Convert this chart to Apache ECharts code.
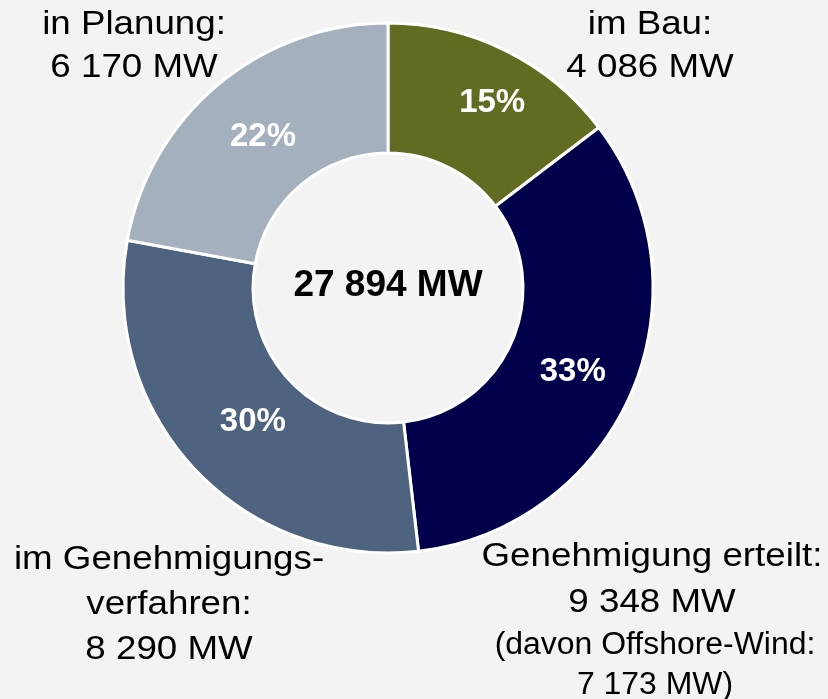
<!DOCTYPE html>
<html>
<head>
<meta charset="utf-8">
<title>Projektstatus</title>
<script src="https://cdn.jsdelivr.net/npm/echarts@6/dist/echarts.min.js"></script>
<style>
  html, body { margin: 0; padding: 0; background: #f3f3f3; }
  #chart { width: 828px; height: 699px; }
</style>
</head>
<body>
<div id="chart"></div>
<script>
// Werte in MW, im Uhrzeigersinn ab 12 Uhr
const categories = ['im Bau', 'Genehmigung erteilt', 'im Genehmigungsverfahren', 'in Planung'];
const values = [4086, 9348, 8290, 6170];
const colors = ['#636b23', '#01004b', '#4e6380', '#a5b0bf'];
const offshoreWind = 7173; // davon bei "Genehmigung erteilt"

// 27894 -> "27 894"
function fmt(v) {
  return String(v).replace(/\B(?=(\d{3})+(?!\d))/g, ' ');
}

const total = values.reduce((a, b) => a + b, 0);
const font = '"Liberation Sans", Arial, sans-serif';

function label(x, y, text, size, lh, sx) {
  return {
    type: 'text',
    x: x,
    y: y,
    scaleX: sx,
    silent: true,
    style: {
      text: text,
      x: 0,
      y: 0,
      align: 'center',
      verticalAlign: 'top',
      fontFamily: font,
      fontSize: size,
      lineHeight: lh,
      fill: '#000'
    }
  };
}

// kleine Verschiebungen der Prozentlabels wie im Original
const pctShift = [[14, -3], [-2, 4], [13, -5], [5, 5]];

const chart = echarts.init(document.getElementById('chart'));
chart.setOption({
  backgroundColor: '#f3f3f3',
  animation: false,
  graphic: [
    label(134, 3, categories[3] + ':\n' + fmt(values[3]) + ' MW', 34, 43, 1.08),
    label(650, 3, categories[0] + ':\n' + fmt(values[0]) + ' MW', 34, 43, 1.08),
    label(169, 537, 'im Genehmigungs-\nverfahren:\n' + fmt(values[2]) + ' MW', 34, 45, 1.08),
    label(652, 534, categories[1] + ':\n' + fmt(values[1]) + ' MW', 34, 46, 1.08),
    label(655, 625, '(davon Offshore-Wind:\n' + fmt(offshoreWind) + ' MW)', 31, 40, 1.03),
    {
      type: 'text',
      x: 388,
      y: 286,
      silent: true,
      style: {
        text: fmt(total) + ' MW',
        align: 'center',
        verticalAlign: 'middle',
        fontFamily: font,
        fontSize: 37,
        fontWeight: 'bold',
        fill: '#000'
      }
    }
  ],
  series: [
    {
      type: 'pie',
      center: [388, 288],
      radius: [135, 265],
      startAngle: 90,
      clockwise: true,
      percentPrecision: 0,
      avoidLabelOverlap: false,
      itemStyle: {
        borderColor: '#ffffff',
        borderWidth: 3
      },
      label: {
        show: true,
        position: 'inside',
        formatter: '{d}%',
        color: '#ffffff',
        fontFamily: font,
        fontSize: 33,
        fontWeight: 'bold'
      },
      labelLayout: function (p) {
        return { dx: pctShift[p.dataIndex][0], dy: pctShift[p.dataIndex][1] };
      },
      labelLine: { show: false },
      emphasis: { disabled: true },
      data: categories.map((name, i) => ({
        name: name,
        value: values[i],
        itemStyle: { color: colors[i] }
      }))
    }
  ]
});
</script>
</body>
</html>
